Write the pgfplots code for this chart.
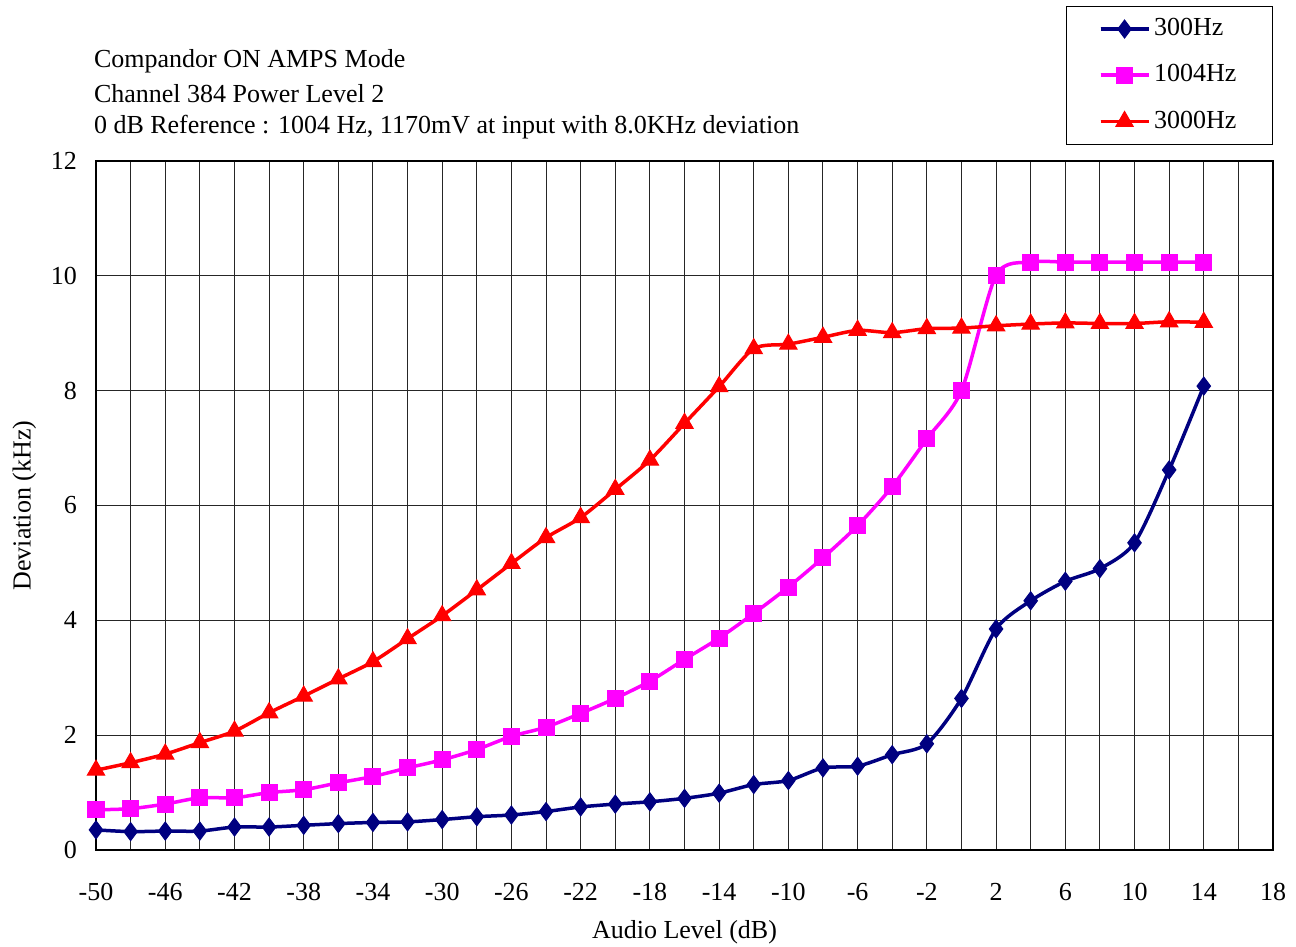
\documentclass[border=0pt]{standalone}
\usepackage{pgfplots}
\pgfplotsset{compat=1.18}
\usepackage{fontspec}
\setmainfont{Liberation Serif}
\definecolor{navyc}{RGB}{0,0,128}
\definecolor{magc}{RGB}{255,0,255}
\definecolor{redc}{RGB}{255,0,0}
\begin{document}
\fontsize{13}{15.6}\selectfont
\begin{tikzpicture}
\begin{axis}[
  name=ax,
  scale only axis,
  width=588.5pt, height=344.5pt,
  xmin=-50, xmax=18, ymin=0, ymax=12,
  xtick={-50,-46,...,18},
  minor xtick={-48,-44,...,16},
  ytick={0,2,...,12},
  grid=both,
  major grid style={black!85, line width=0.5pt},
  minor grid style={black!85, line width=0.5pt},
  axis line style={line width=1.2pt},
  major tick length=0pt, minor tick length=0pt,
  xtick pos=bottom, ytick pos=left,
  clip mode=individual,
  /pgf/number format/assume math mode=true,
  ticklabel style={font=\fontsize{13}{15.6}\selectfont},
  xticklabel style={yshift=-12pt},
  yticklabel style={xshift=-5pt},
  xlabel={Audio Level (dB)},
  ylabel={Deviation (kHz)},
  label style={font=\fontsize{13}{15.6}\selectfont},
  xlabel style={yshift=-1pt},
  ylabel style={yshift=-1.5pt},
  legend style={at={(1,1.225)}, anchor=north east, draw=black, line width=0.5pt,
    font=\fontsize{13}{15.6}\selectfont, row sep=8.5pt, inner xsep=16pt, inner ysep=4pt,
    nodes={inner xsep=2pt}},
  legend cell align=left,
  legend image code/.code={
    \draw[#1, line width=1.75pt] (0cm,0cm) -- (0.84cm,0cm);
    \draw[#1, mark repeat=2, mark phase=2] plot coordinates {(0cm,0cm) (0.42cm,0cm) (0.84cm,0cm)};
  },
  every axis plot/.append style={line width=1.75pt, smooth, tension=0.45},
]
\addplot[navyc, mark=diamond*, mark size=4.5pt, mark options={solid, line width=0.5pt}] coordinates {
(-50,0.35) (-48,0.32) (-46,0.33) (-44,0.33) (-42,0.40) (-40,0.40) (-38,0.43) (-36,0.46)
(-34,0.48) (-32,0.49) (-30,0.53) (-28,0.58) (-26,0.61) (-24,0.67) (-22,0.75) (-20,0.80)
(-18,0.84) (-16,0.90) (-14,0.99) (-12,1.14) (-10,1.21) (-8,1.43) (-6,1.46) (-4,1.66)
(-2,1.85) (0,2.64) (2,3.85) (4,4.34) (6,4.68) (8,4.90) (10,5.35) (12,6.62) (14,8.08)};
\addlegendentry{300Hz}
\addplot[magc, mark=square*, mark size=4pt, mark options={solid, line width=0.5pt}] coordinates {
(-50,0.70) (-48,0.72) (-46,0.80) (-44,0.91) (-42,0.91) (-40,1.00) (-38,1.05) (-36,1.17)
(-34,1.28) (-32,1.43) (-30,1.57) (-28,1.75) (-26,1.98) (-24,2.14) (-22,2.38) (-20,2.64)
(-18,2.94) (-16,3.32) (-14,3.69) (-12,4.12) (-10,4.58) (-8,5.09) (-6,5.65) (-4,6.33)
(-2,7.16) (0,8.00) (2,10.01) (4,10.24) (6,10.24) (8,10.24) (10,10.24) (12,10.24) (14,10.24)};
\addlegendentry{1004Hz}
\addplot[redc, mark=triangle*, mark size=5pt, mark options={solid, line width=0.5pt}] coordinates {
(-50,1.39) (-48,1.52) (-46,1.67) (-44,1.87) (-42,2.07) (-40,2.39) (-38,2.68) (-36,2.98)
(-34,3.28) (-32,3.68) (-30,4.08) (-28,4.53) (-26,4.99) (-24,5.44) (-22,5.79) (-20,6.28)
(-18,6.79) (-16,7.43) (-14,8.07) (-12,8.73) (-10,8.81) (-8,8.93) (-6,9.05) (-4,9.01)
(-2,9.08) (0,9.09) (2,9.13) (4,9.16) (6,9.18) (8,9.17) (10,9.17) (12,9.20) (14,9.19)};
\addlegendentry{3000Hz}
\node[anchor=base west, inner sep=0pt] at (rel axis cs:-0.002,1.135) {Compandor ON AMPS Mode};
\node[anchor=base west, inner sep=0pt] at (rel axis cs:-0.002,1.0856) {Channel 384 Power Level 2};
\node[anchor=base west, inner sep=0pt] at (rel axis cs:-0.002,1.0406) {0 dB Reference : 1004 Hz, 1170mV at input with 8.0KHz deviation};
\end{axis}
\pgfresetboundingbox
\path ([xshift=-48pt, yshift=-48pt]ax.south west) rectangle ([xshift=11.5pt, yshift=80.5pt]ax.north east);
\end{tikzpicture}
\end{document}
